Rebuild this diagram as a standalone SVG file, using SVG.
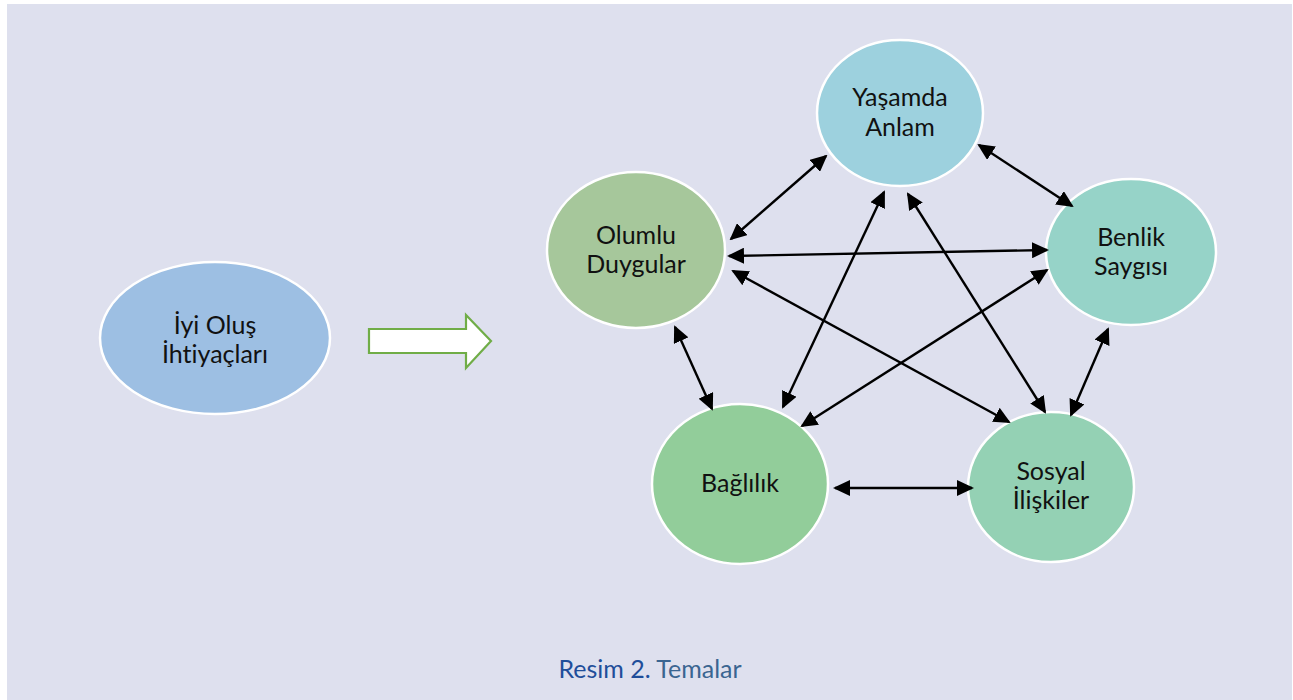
<svg xmlns="http://www.w3.org/2000/svg" width="1293" height="700" viewBox="0 0 1293 700">
<defs>
<style>
.node ellipse{stroke:#ffffff;stroke-width:2.5}
.lbl{font-family:"Lato","Liberation Sans",sans-serif;font-size:25px;fill:#111111;text-anchor:middle;font-variant-ligatures:none}
.conn line{stroke:#000;stroke-width:2.4;marker-start:url(#ah);marker-end:url(#ah)}
.cap{font-family:"Lato","Liberation Sans",sans-serif;font-size:25px;font-variant-ligatures:none}
</style>
<marker id="ah" markerUnits="userSpaceOnUse" markerWidth="17" markerHeight="16" refX="15" refY="8" orient="auto-start-reverse" viewBox="0 0 17 16">
<path d="M0,0 L17,8 L0,16 z" fill="#000"/>
</marker>
</defs>
<rect x="0" y="0" width="1293" height="700" fill="#ffffff"/>
<rect x="7" y="4" width="1285" height="696" fill="#DEE0EE"/>

<g id="iyi-olus" class="node">
<ellipse cx="215" cy="338" rx="115" ry="76" fill="#9DBFE3"/>
<text class="lbl" x="215" y="334">İyi Oluş</text>
<text class="lbl" x="215" y="363">İhtiyaçları</text>
</g>

<g id="block-arrow">
<path d="M369,329 L466,329 L466,315 L491,341 L466,368 L466,353 L369,353 Z" fill="#ffffff" stroke="#70AD47" stroke-width="2.2"/>
</g>

<g id="yasamda-anlam" class="node">
<ellipse cx="900" cy="113" rx="83" ry="73" fill="#9DD1DE"/>
<text class="lbl" x="900" y="106">Yaşamda</text>
<text class="lbl" x="900" y="136">Anlam</text>
</g>

<g id="olumlu-duygular" class="node">
<ellipse cx="636" cy="250" rx="89" ry="78" fill="#A6C79B"/>
<text class="lbl" x="636" y="244">Olumlu</text>
<text class="lbl" x="636" y="273">Duygular</text>
</g>

<g id="benlik-saygisi" class="node">
<ellipse cx="1131" cy="252" rx="85" ry="73" fill="#96D3C8"/>
<text class="lbl" x="1131" y="246">Benlik</text>
<text class="lbl" x="1131" y="275">Saygısı</text>
</g>

<g id="baglilik" class="node">
<ellipse cx="740" cy="484" rx="88" ry="80" fill="#92CD9A"/>
<text class="lbl" x="740" y="492">Bağlılık</text>
</g>

<g id="sosyal-iliskiler" class="node">
<ellipse cx="1051" cy="487" rx="83" ry="75" fill="#94D1B4"/>
<text class="lbl" x="1051" y="480">Sosyal</text>
<text class="lbl" x="1051" y="509">İlişkiler</text>
</g>

<g id="connectors" class="conn">
<line x1="731" y1="239" x2="826" y2="156"/>
<line x1="729" y1="256" x2="1047" y2="250"/>
<line x1="733" y1="271" x2="1009" y2="422"/>
<line x1="884" y1="192" x2="783" y2="407"/>
<line x1="908" y1="194" x2="1045" y2="412"/>
<line x1="979" y1="145" x2="1072" y2="206"/>
<line x1="1047" y1="270" x2="802" y2="426"/>
<line x1="1108" y1="329" x2="1071" y2="415"/>
<line x1="675" y1="327" x2="712" y2="409"/>
<line x1="835" y1="488" x2="972" y2="488"/>
</g>

<text class="cap" x="650" y="678" text-anchor="middle"><tspan fill="#1F4E9A">Resim 2. </tspan><tspan fill="#3A6591">Temalar</tspan></text>
</svg>
